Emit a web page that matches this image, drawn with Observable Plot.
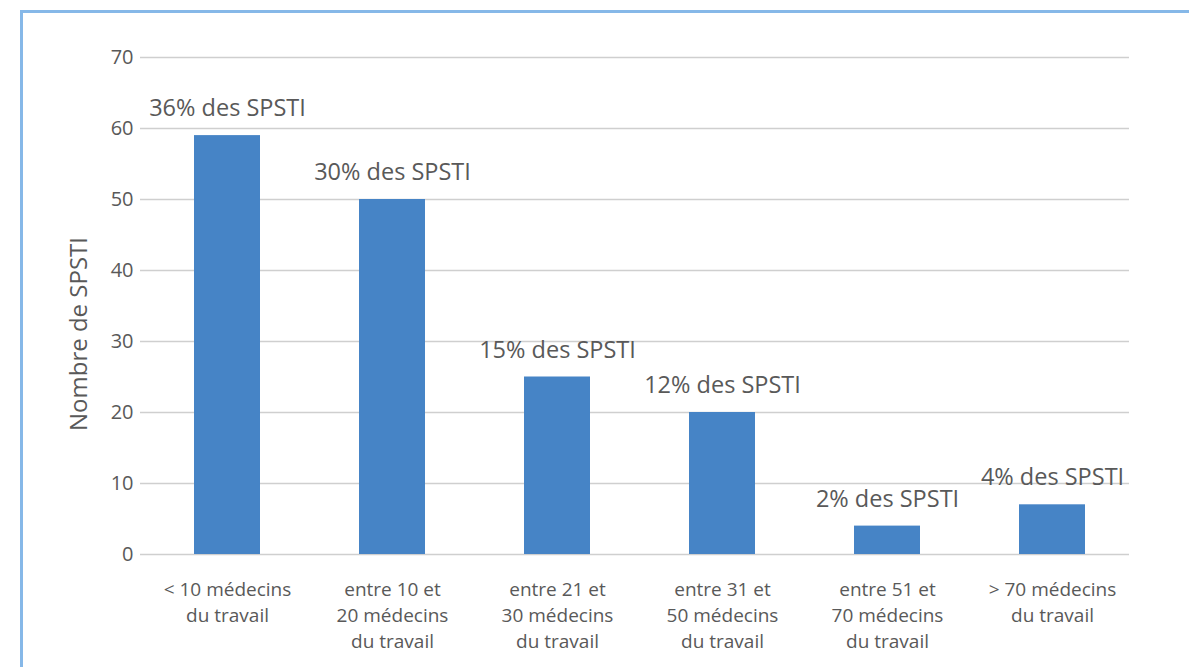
<!DOCTYPE html>
<html>
<head>
<meta charset="utf-8">
<script src="https://cdn.jsdelivr.net/npm/d3@7"></script>
<script src="https://cdn.jsdelivr.net/npm/@observablehq/plot@0.6"></script>
<style>
  html, body { margin: 0; padding: 0; background: #fff; overflow: hidden; }
  #wrap { position: relative; width: 1189px; height: 667px; }
  #frame { position: absolute; left: 20px; top: 10px; width: 1300px; height: 800px;
           border-left: 3px solid #86b8e8; border-top: 3px solid #86b8e8; box-sizing: border-box; }
  #chart { position: absolute; left: 0; top: 0; }
</style>
</head>
<body>
<div id="wrap"><div id="frame"></div><div id="chart"></div></div>
<script>
const categories = [
  "< 10 médecins\ndu travail",
  "entre 10 et\n20 médecins\ndu travail",
  "entre 21 et\n30 médecins\ndu travail",
  "entre 31 et\n50 médecins\ndu travail",
  "entre 51 et\n70 médecins\ndu travail",
  "> 70 médecins\ndu travail"
];
const values = [59, 50, 25, 20, 4, 7];
const labels = ["36% des SPSTI", "30% des SPSTI", "15% des SPSTI", "12% des SPSTI", "2% des SPSTI", "4% des SPSTI"];
const yTicks = [0, 10, 20, 30, 40, 50, 60, 70];
const yTitle = "Nombre de SPSTI";

const data = categories.map((c, i) => ({cat: c, value: values[i], label: labels[i]}));
const font = "'Open Sans', sans-serif";
const grey = "#595959";

const chart = Plot.plot({
  width: 1189,
  height: 667,
  marginLeft: 140,
  marginRight: 60,
  marginTop: 57,
  marginBottom: 113,
  style: {fontFamily: font, background: "transparent", color: grey},
  x: {domain: categories, paddingInner: 0.6, paddingOuter: 0.3, range: [145, 1135]},
  y: {domain: [0, 70]},
  marks: [
    Plot.gridY(yTicks, {stroke: "#cfcfcf", strokeOpacity: 1, strokeWidth: 1.3}),
    Plot.barY(data, {x: "cat", y: "value", fill: "#4684c6"}),
    Plot.text(data, {x: "cat", y: "value", text: "label", dy: -27, fontSize: 23.5, fill: grey}),
    Plot.axisY(yTicks, {tickSize: 0, tickPadding: 7, fontSize: 20, fill: grey, label: null}),
    Plot.axisX({tickSize: 0, tickPadding: 23, fontSize: 19, lineHeight: 1.37, fill: grey, label: null}),
    Plot.text([yTitle], {frameAnchor: "left", textAnchor: "middle", rotate: -90, dx: -61, dy: 28, fontSize: 24, fill: grey})
  ]
});
document.getElementById("chart").appendChild(chart);
</script>
</body>
</html>
